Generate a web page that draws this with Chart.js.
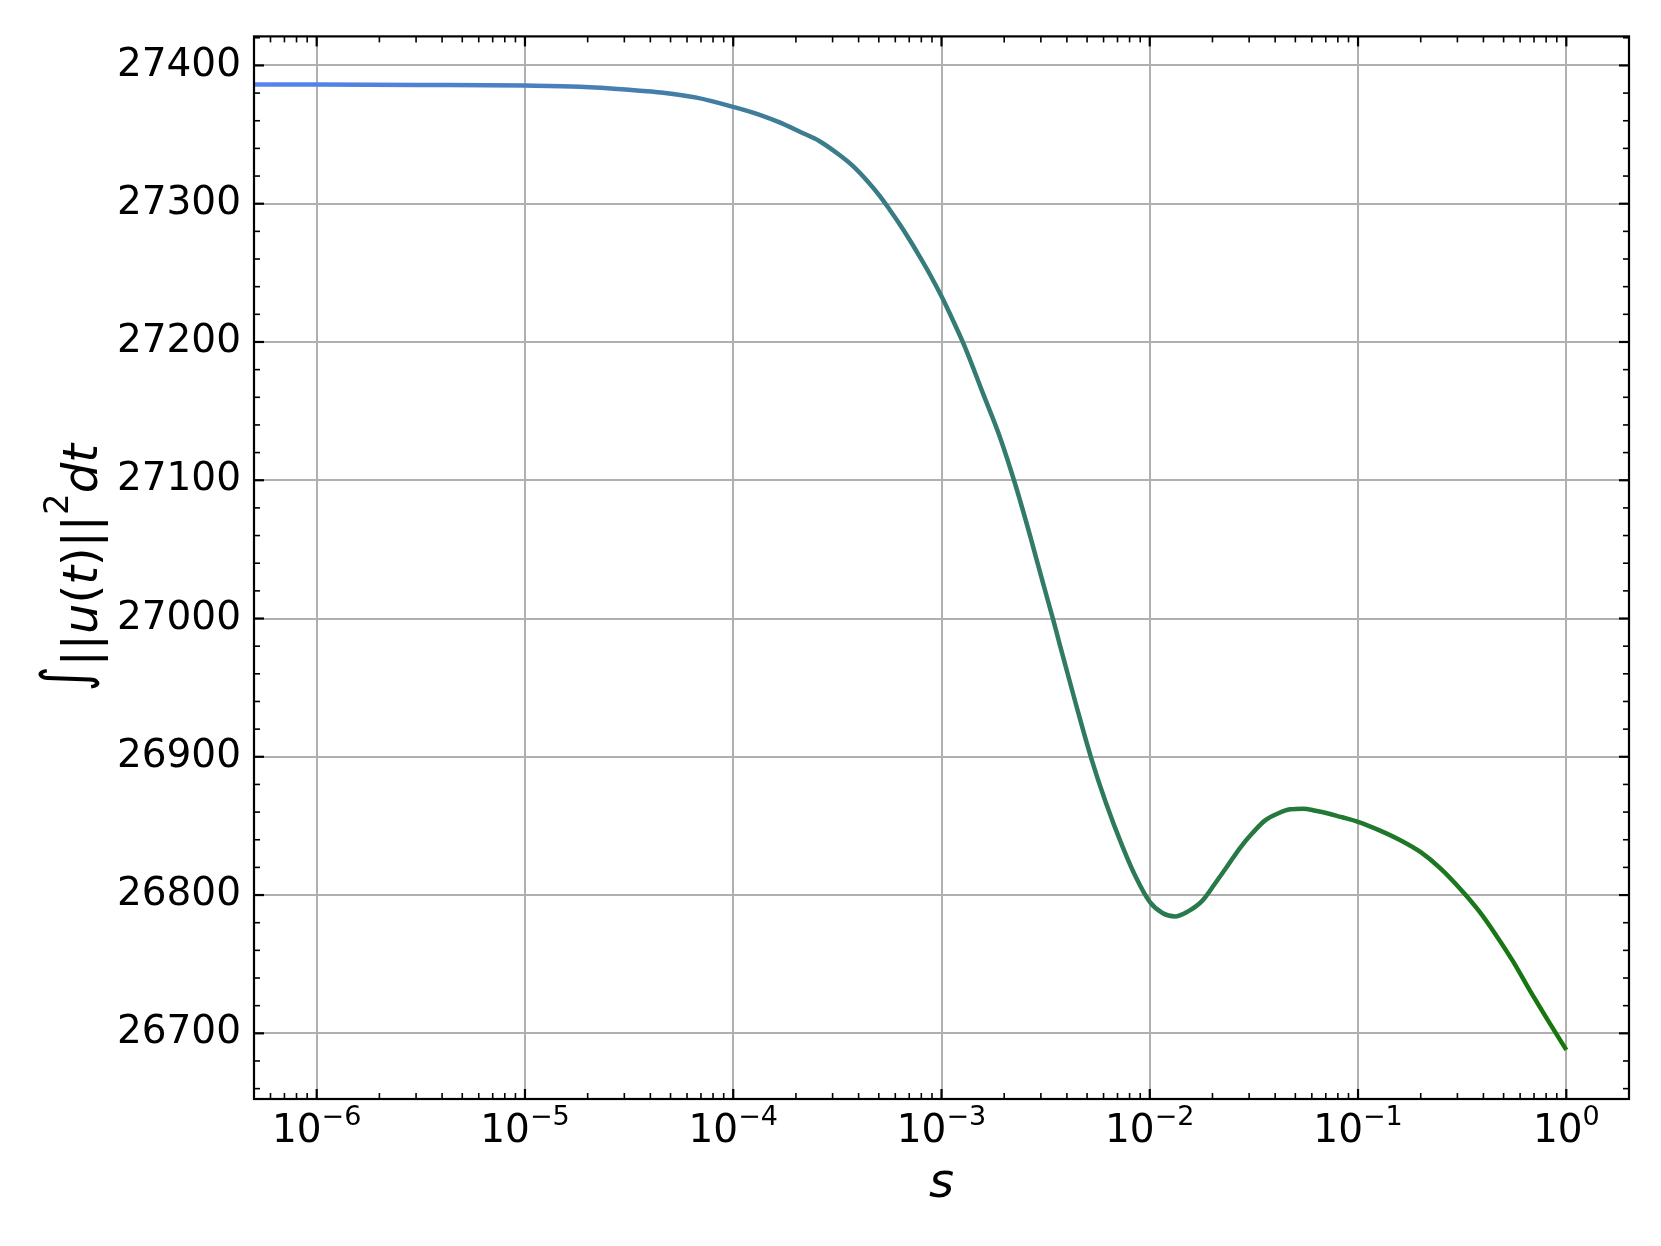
<!DOCTYPE html>
<html lang="en">
<head>
    <meta charset="UTF-8">
    <title>Integral of ||u(t)||^2 versus s</title>
    <!-- Chart.js from CDN -->
    <script src="https://cdn.jsdelivr.net/npm/chart.js"></script>
    <style>
        body { margin: 0; background: #fff; }
        canvas { display: block; }
    </style>
</head>
<body>
    <canvas id="integralChart" width="1661" height="1246"></canvas>

    <script>
        // Values
        const sValues = [5e-7, 1e-6, 3.16e-6, 1e-5, 1.84e-5, 3.16e-5, 4.61e-5, 6.67e-5, 1e-4, 1.34e-4,
            1.67e-4, 2.09e-4, 2.61e-4, 3.25e-4, 3.77e-4, 4.37e-4, 5.06e-4, 5.65e-4, 6.31e-4, 7.05e-4,
            7.87e-4, 8.79e-4, 1e-3, 1.14e-3, 1.29e-3, 1.58e-3, 1.91e-3, 2.25e-3, 2.65e-3, 3.08e-3,
            3.44e-3, 3.67e-3, 4.42e-3, 5.21e-3, 6.15e-3, 7.4e-3, 8.57e-3, 1e-2, 1.15e-2, 1.32e-2,
            1.52e-2, 1.79e-2, 2.05e-2, 2.36e-2, 2.71e-2, 3.12e-2, 3.58e-2, 4.12e-2, 4.73e-2, 5.44e-2,
            6.25e-2, 7.19e-2, 8.26e-2, 0.1, 0.126, 0.158, 0.2, 0.25, 0.316, 0.383,
            0.46, 0.555, 0.668, 0.804, 1.0];
        const integralValues = [27386.3, 27386.2, 27385.9, 27385.4, 27384.6, 27382.4, 27380.3, 27376.7, 27370, 27364.3,
            27358.8, 27352, 27345, 27335, 27327, 27317, 27305.5, 27295.5, 27285, 27273.6,
            27261.6, 27249, 27233, 27215, 27197, 27163, 27131, 27098, 27061, 27025,
            26999, 26983, 26938, 26900, 26867, 26835, 26813, 26795, 26787, 26784.5,
            26788, 26796, 26808, 26821, 26834, 26845, 26854, 26859, 26862, 26862.5,
            26861, 26859, 26856.5, 26853, 26847, 26840, 26831, 26819, 26803, 26788,
            26771, 26752, 26731, 26711, 26688];

        // Tick labels
        const xMajorTicks = [1e-6, 1e-5, 1e-4, 1e-3, 1e-2, 1e-1, 1];
        const xTickExponents = ['\u22126', '\u22125', '\u22124', '\u22123', '\u22122', '\u22121', '0'];
        const yMajorTicks = [26700, 26800, 26900, 27000, 27100, 27200, 27300, 27400];

        const FONT = '"DejaVu Sans", sans-serif';
        const startColor = [88, 130, 242];
        const endColor = [22, 118, 10];

        // Line colour goes from blue on the left to green on the right
        function lineGradient(context) {
            const chart = context.chart;
            if (!chart.chartArea) return 'rgb(60,120,120)';
            const xs = chart.scales.x;
            const x0 = xs.getPixelForValue(sValues[0]);
            const x1 = xs.getPixelForValue(sValues[sValues.length - 1]);
            const g = chart.ctx.createLinearGradient(x0, 0, x1, 0);
            g.addColorStop(0, 'rgb(' + startColor.join(',') + ')');
            g.addColorStop(1, 'rgb(' + endColor.join(',') + ')');
            return g;
        }

        // Frame, inward ticks, x labels with exponents and axis titles (matplotlib look)
        const axesDecor = {
            id: 'axesDecor',
            afterDraw(chart) {
                const { ctx, chartArea: a, scales: { x, y } } = chart;
                ctx.save();
                ctx.strokeStyle = '#000';

                function seg(x1, y1, x2, y2) {
                    ctx.beginPath();
                    ctx.moveTo(x1, y1);
                    ctx.lineTo(x2, y2);
                    ctx.stroke();
                }
                function xTick(v, len) {
                    const px = x.getPixelForValue(v);
                    seg(px, a.bottom, px, a.bottom - len);
                    seg(px, a.top, px, a.top + len);
                }
                function yTick(v, len) {
                    const py = y.getPixelForValue(v);
                    seg(a.left, py, a.left + len, py);
                    seg(a.right, py, a.right - len, py);
                }

                // minor ticks
                ctx.lineWidth = 1.6;
                for (let e = -7; e <= 0; e++) {
                    for (let k = 2; k <= 9; k++) {
                        const v = k * Math.pow(10, e);
                        if (v > x.min && v < x.max) xTick(v, 6);
                    }
                }
                for (let v = 26660; v <= 27420; v += 20) {
                    if (v % 100 !== 0) yTick(v, 6);
                }

                // major ticks
                ctx.lineWidth = 2.2;
                xMajorTicks.forEach(v => xTick(v, 10));
                yMajorTicks.forEach(v => yTick(v, 10));

                // frame
                ctx.strokeRect(a.left, a.top, a.right - a.left, a.bottom - a.top);

                // x tick labels 10^n
                ctx.fillStyle = '#000';
                ctx.textBaseline = 'alphabetic';
                ctx.textAlign = 'left';
                xMajorTicks.forEach((v, i) => {
                    const px = x.getPixelForValue(v);
                    ctx.font = '39px ' + FONT;
                    const wBase = ctx.measureText('10').width;
                    ctx.font = '27px ' + FONT;
                    const wExp = ctx.measureText(xTickExponents[i]).width;
                    const left = px - (wBase + wExp) / 2;
                    ctx.font = '39px ' + FONT;
                    ctx.fillText('10', left, 1142);
                    ctx.font = '27px ' + FONT;
                    ctx.fillText(xTickExponents[i], left + wBase, 1125);
                });

                // x axis title
                ctx.font = 'italic 48px ' + FONT;
                ctx.textAlign = 'center';
                ctx.fillText('s', (a.left + a.right) / 2, 1197);

                // y axis title, rotated
                const parts = [
                    ['\u222B', 'n'], ['||', 'n'], ['u', 'i'], ['(', 'n'], ['t', 'i'], [')', 'n'],
                    ['||', 'n'], ['2', 's'], ['d', 'i'], ['t', 'i']
                ];
                const fontFor = k => k === 'i' ? 'italic 48px ' + FONT : (k === 's' ? '34px ' + FONT : '48px ' + FONT);
                let total = 0;
                parts.forEach(p => { ctx.font = fontFor(p[1]); total += ctx.measureText(p[0]).width; });
                ctx.translate(97, (a.top + a.bottom) / 2);
                ctx.rotate(-Math.PI / 2);
                ctx.textAlign = 'left';
                let cx = -total / 2;
                parts.forEach(p => {
                    ctx.font = fontFor(p[1]);
                    if (p[0] === '\u222B') {
                        // taller integral sign like mathtext
                        ctx.save();
                        ctx.translate(cx, -11);
                        ctx.scale(1, 1.31);
                        ctx.fillText(p[0], 0, 0);
                        ctx.restore();
                    } else {
                        ctx.fillText(p[0], cx, p[1] === 's' ? -29 : 0);
                    }
                    cx += ctx.measureText(p[0]).width;
                });
                ctx.restore();
            }
        };

        const ctx = document.getElementById('integralChart').getContext('2d');
        const integralChart = new Chart(ctx, {
            type: 'line',
            data: {
                datasets: [{
                    data: sValues.map((s, i) => ({ x: s, y: integralValues[i] })),
                    borderColor: lineGradient,
                    borderWidth: 4.5,
                    pointRadius: 0,
                    cubicInterpolationMode: 'monotone',
                    fill: false,
                }],
            },
            options: {
                responsive: false,
                devicePixelRatio: 1,
                animation: false,
                layout: { padding: { left: 0, right: 32, top: 32, bottom: 0 } },
                plugins: {
                    legend: { display: false },
                    tooltip: { enabled: false },
                },
                scales: {
                    x: {
                        type: 'logarithmic',
                        min: 5e-7,
                        max: 2,
                        afterBuildTicks: scale => {
                            scale.ticks = xMajorTicks.map(v => ({ value: v, major: true }));
                        },
                        afterFit: scale => { scale.height = 147; },
                        ticks: { display: false },
                        grid: { color: '#b0b0b0', lineWidth: 2, drawTicks: false },
                        border: { display: false },
                    },
                    y: {
                        type: 'linear',
                        min: 26652.5,
                        max: 27421,
                        afterBuildTicks: scale => {
                            scale.ticks = yMajorTicks.map(v => ({ value: v }));
                        },
                        afterFit: scale => { scale.width = 254; },
                        ticks: {
                            color: '#000',
                            padding: 13,
                            font: { family: FONT, size: 39 },
                            callback: value => String(value),
                        },
                        grid: { color: '#b0b0b0', lineWidth: 2, drawTicks: false },
                        border: { display: false },
                    },
                },
            },
            plugins: [axesDecor],
        });
    </script>
</body>
</html>
